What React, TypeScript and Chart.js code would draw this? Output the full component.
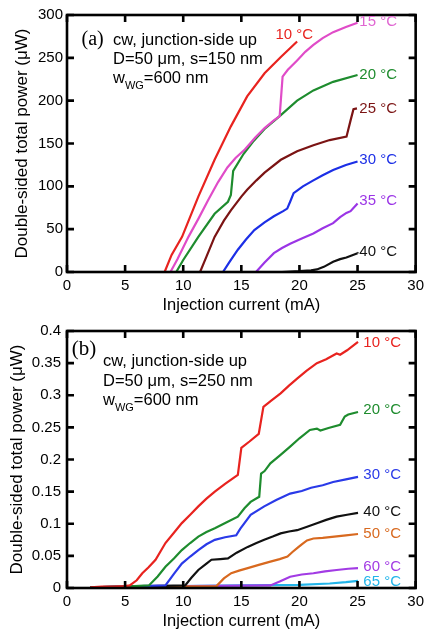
import React, { useEffect, useRef } from 'react';
import { Chart, registerables } from 'chart.js';

Chart.register(...registerables);

// ---------- tick labels ----------
const X_TICKS = ['0', '5', '10', '15', '20', '25', '30'];
const A_Y_TICKS = ['0', '50', '100', '150', '200', '250', '300'];
const B_Y_TICKS = ['0', '0.05', '0.1', '0.15', '0.2', '0.25', '0.3', '0.35', '0.4'];

// ---------- panel (a) : s = 150 nm, power in µW ----------
const A_NAMES = ['10 °C', '15 °C', '20 °C', '25 °C', '30 °C', '35 °C', '40 °C'];

const A10_X = [8.4, 9.0, 9.9, 11.3, 12.7, 14.1, 15.5, 17.0, 18.4, 19.8];
const A10_Y = [0, 20, 41, 88, 131, 170, 205, 232, 251, 269];

const A15_X = [8.9, 9.5, 10.45, 11.3, 12.15, 13.0, 13.8, 14.5, 15.3, 16.2, 17.0, 17.8, 18.3, 18.55, 19.0, 19.8, 20.5, 21.2, 22.0, 22.9, 24.0, 25.0];
const A15_Y = [0, 15, 41, 62, 84, 105, 122, 133, 143, 157, 168, 177, 182, 228, 236, 247, 257, 265, 273, 280, 286, 291];

const A20_X = [9.4, 10.0, 11.3, 12.7, 13.85, 14.1, 14.3, 15.2, 16.0, 17.0, 18.3, 19.8, 21.2, 22.9, 25.0];
const A20_Y = [0, 14, 41, 68, 82, 90, 118, 138, 152, 167, 182, 200, 212, 222, 230];

const A25_X = [11.0, 11.45, 12.0, 12.7, 13.5, 14.1, 15.0, 15.5, 16.3, 17.0, 18.4, 19.8, 21.2, 22.6, 24.05, 24.4, 24.65, 24.95];
const A25_Y = [0, 0, 18, 41, 60, 72, 88, 96, 107, 116, 131, 141, 148, 154, 158, 177, 190, 191];

const A30_X = [12.8, 13.42, 14.0, 14.7, 15.4, 16.12, 17.0, 17.8, 18.6, 18.95, 19.2, 19.5, 20.3, 21.2, 22.0, 22.9, 24.0, 25.0];
const A30_Y = [0, 0, 12, 26, 38, 49, 58, 65, 71, 74, 82, 92, 100, 107, 113, 119, 125, 129];

const A35_X = [15.5, 16.26, 17.0, 17.8, 18.5, 19.2, 20.2, 21.2, 22.0, 22.9, 23.5, 24.04, 24.4, 25.0];
const A35_Y = [0, 0, 11, 22, 28, 33, 39, 45, 51, 57, 64, 69, 71, 80];

const A40_X = [18.5, 20.0, 21.0, 21.5, 22.1, 22.9, 23.5, 24.04, 25.0];
const A40_Y = [0, 1, 2, 3, 6, 12, 15, 17, 22];

// ---------- panel (b) : s = 250 nm, power in µW ----------
const B_NAMES = ['10 °C', '20 °C', '30 °C', '40 °C', '50 °C', '60 °C', '65 °C'];

const B10_X = [2.0, 3.0, 4.0, 5.0, 5.4, 6.0, 6.48, 7.0, 7.62, 8.47, 9.2, 9.88, 10.6, 11.3, 12.0, 12.72, 13.6, 14.7, 15.0, 15.7, 16.5, 16.9, 17.6, 18.38, 19.1, 19.8, 20.6, 21.5, 22.3, 23.2, 23.5, 24.1, 25.04];
const B10_Y = [0.001, 0.002, 0.002, 0.003, 0.004, 0.012, 0.023, 0.032, 0.044, 0.070, 0.086, 0.101, 0.114, 0.127, 0.139, 0.150, 0.162, 0.176, 0.218, 0.228, 0.240, 0.282, 0.292, 0.303, 0.315, 0.326, 0.338, 0.350, 0.356, 0.365, 0.363, 0.370, 0.383];

const B20_X = [2.0, 5.0, 7.05, 7.8, 8.47, 9.2, 9.88, 10.6, 11.3, 12.0, 12.72, 13.7, 14.7, 15.27, 15.8, 16.54, 16.7, 17.0, 17.5, 18.3, 19.2, 20.0, 20.9, 21.5, 21.8, 22.5, 23.5, 23.9, 24.2, 25.04];
const B20_Y = [0.001, 0.002, 0.004, 0.018, 0.033, 0.046, 0.059, 0.070, 0.080, 0.087, 0.093, 0.102, 0.111, 0.124, 0.134, 0.142, 0.178, 0.182, 0.194, 0.206, 0.220, 0.233, 0.246, 0.248, 0.245, 0.249, 0.254, 0.267, 0.270, 0.274];

const B30_X = [2.0, 5.0, 8.47, 9.2, 9.88, 10.6, 11.3, 12.0, 12.72, 13.6, 14.56, 14.9, 15.27, 15.8, 16.97, 18.0, 19.2, 20.2, 21.0, 22.0, 22.9, 24.0, 25.04];
const B30_Y = [0.001, 0.002, 0.004, 0.022, 0.038, 0.049, 0.059, 0.068, 0.075, 0.079, 0.082, 0.092, 0.101, 0.114, 0.127, 0.137, 0.147, 0.151, 0.156, 0.160, 0.165, 0.169, 0.173];

const B40_X = [2.0, 5.0, 10.17, 10.7, 11.3, 12.0, 12.43, 13.2, 13.85, 14.6, 15.55, 16.3, 16.97, 17.7, 18.38, 19.1, 19.8, 20.6, 21.5, 22.3, 23.2, 24.1, 25.04];
const B40_Y = [0.001, 0.002, 0.004, 0.016, 0.028, 0.038, 0.044, 0.045, 0.046, 0.055, 0.064, 0.070, 0.075, 0.080, 0.085, 0.088, 0.090, 0.095, 0.1007, 0.106, 0.111, 0.114, 0.117];

const B50_X = [2.0, 5.0, 12.86, 13.5, 14.13, 14.8, 15.55, 16.5, 17.5, 18.3, 18.97, 19.4, 19.8, 20.2, 20.65, 21.2, 22.0, 23.0, 24.0, 25.04];
const B50_Y = [0.001, 0.002, 0.003, 0.015, 0.023, 0.027, 0.031, 0.036, 0.041, 0.045, 0.049, 0.056, 0.062, 0.068, 0.074, 0.077, 0.078, 0.080, 0.082, 0.084];

const B60_X = [2.0, 5.0, 10.0, 17.5, 18.3, 19.2, 20.2, 21.2, 22.2, 23.2, 24.2, 25.04];
const B60_Y = [0.001, 0.002, 0.003, 0.004, 0.010, 0.0176, 0.021, 0.023, 0.026, 0.028, 0.030, 0.031];

const B65_X = [2.0, 5.0, 10.0, 15.0, 20.0, 22.6, 24.0, 25.04];
const B65_Y = [0.001, 0.002, 0.003, 0.004, 0.005, 0.007, 0.009, 0.011];

// ---------- styling ----------
const SANS = "'Liberation Sans', Arial, Helvetica, sans-serif";
const SERIF = "'Liberation Serif', 'Times New Roman', serif";

const A_COLORS = ['#e8231f', '#e04cc8', '#1e8c2e', '#7b1414', '#1c2fe6', '#9b35e6', '#111111'];
const A_LABEL_COLORS = ['#e8231f', '#e066d2', '#1e8c2e', '#7b1414', '#1c2fe6', '#9b35e6', '#111111'];
const B_COLORS = ['#e8231f', '#1e8c2e', '#2a3ae8', '#111111', '#d8691f', '#a23be4', '#22b5ea'];

// label anchors (data coordinates) for the temperature tags
const A_LABEL_POS = [[17.93, 276.5], [25.15, 291.5], [25.15, 230], [25.15, 191], [25.15, 131], [25.15, 83], [25.15, 23]];
const B_LABEL_POS = [[25.5, 0.381], [25.5, 0.277], [25.5, 0.176], [25.5, 0.118], [25.5, 0.084], [25.5, 0.033], [25.5, 0.009]];

const zip = (xs: number[], ys: number[]) => xs.map((x, i) => ({ x, y: ys[i] }));

type Note = { kind: 'serif' | 'sans' | 'wwg'; text: string; dx: number; dy: number; size: number };

const framePlugin = {
  id: 'frame',
  afterDatasetsDraw(chart: any) {
    const { ctx, chartArea: a, scales } = chart;
    const x = scales.x;
    const y = scales.y;
    ctx.save();
    ctx.strokeStyle = '#000';
    ctx.lineWidth = 2.6;
    ctx.strokeRect(a.left, a.top, a.right - a.left, a.bottom - a.top);
    const L = 7;
    ctx.beginPath();
    x.ticks.forEach((t: any) => {
      const px = x.getPixelForValue(t.value);
      ctx.moveTo(px, a.bottom);
      ctx.lineTo(px, a.bottom - L);
      ctx.moveTo(px, a.top);
      ctx.lineTo(px, a.top + L);
    });
    y.ticks.forEach((t: any) => {
      const py = y.getPixelForValue(t.value);
      ctx.moveTo(a.left, py);
      ctx.lineTo(a.left + L, py);
      ctx.moveTo(a.right, py);
      ctx.lineTo(a.right - L, py);
    });
    ctx.stroke();
    ctx.restore();
  },
};

function makeLabelPlugin(names: string[], colors: string[], pos: number[][], notes: Note[], leaderIndex: number) {
  return {
    id: 'tags',
    afterDraw(chart: any) {
      const { ctx, chartArea: a, scales } = chart;
      const x = scales.x;
      const y = scales.y;
      ctx.save();
      ctx.textBaseline = 'middle';
      ctx.textAlign = 'left';
      ctx.font = `15px ${SANS}`;
      names.forEach((n, i) => {
        const px = x.getPixelForValue(pos[i][0]);
        const py = y.getPixelForValue(pos[i][1]);
        ctx.fillStyle = colors[i];
        ctx.fillText(n, px, py);
        if (i === leaderIndex) {
          const data = chart.data.datasets[i].data;
          const last = data[data.length - 1];
          ctx.strokeStyle = colors[i];
          ctx.lineWidth = 1.5;
          ctx.beginPath();
          ctx.moveTo(x.getPixelForValue(last.x), y.getPixelForValue(last.y));
          ctx.lineTo(px - 1, py);
          ctx.stroke();
        }
      });
      ctx.fillStyle = '#000';
      notes.forEach((n) => {
        const nx = a.left + n.dx;
        const ny = a.top + n.dy;
        if (n.kind === 'serif') {
          ctx.font = `${n.size}px ${SERIF}`;
          ctx.fillText(n.text, nx, ny);
        } else if (n.kind === 'sans') {
          ctx.font = `${n.size}px ${SANS}`;
          ctx.fillText(n.text, nx, ny);
        } else {
          ctx.font = `${n.size}px ${SANS}`;
          ctx.fillText('w', nx, ny);
          const w1 = ctx.measureText('w').width;
          ctx.font = `11px ${SANS}`;
          ctx.fillText('WG', nx + w1, ny + 8);
          const w2 = ctx.measureText('WG').width;
          ctx.font = `${n.size}px ${SANS}`;
          ctx.fillText(n.text, nx + w1 + w2, ny);
        }
      });
      ctx.restore();
    },
  };
}

function buildConfig(p: {
  series: { x: number[]; y: number[] }[];
  names: string[];
  colors: string[];
  labelColors: string[];
  labelPos: number[][];
  notes: Note[];
  yMax: number;
  yStep: number;
  yTicks: string[];
  yTickPad: number;
  yTitlePad: number;
  xHeight: number;
  xTitlePad: number;
  leaderIndex: number;
}): any {
  return {
    type: 'scatter',
    data: {
      datasets: p.series.map((s, i) => ({
        label: p.names[i],
        data: zip(s.x, s.y),
        showLine: true,
        borderColor: p.colors[i],
        backgroundColor: p.colors[i],
        borderWidth: 2.2,
        pointRadius: 0,
        tension: 0,
      })),
    },
    options: {
      animation: false,
      responsive: false,
      maintainAspectRatio: false,
      layout: { padding: { top: 15, right: 9, left: 0, bottom: 0 } },
      plugins: { legend: { display: false }, tooltip: { enabled: false } },
      scales: {
        x: {
          type: 'linear',
          min: 0,
          max: 30,
          ticks: {
            stepSize: 5,
            autoSkip: false,
            maxRotation: 0,
            padding: 5,
            color: '#000',
            font: { family: SANS, size: 15 },
            callback: (_v: any, i: number) => X_TICKS[i],
          },
          grid: { display: false, drawTicks: false },
          border: { display: false },
          title: {
            display: true,
            text: 'Injection current (mA)',
            color: '#000',
            font: { family: SANS, size: 16.5 },
            padding: { top: 0, bottom: p.xTitlePad },
          },
          afterFit: (s: any) => {
            s.height = p.xHeight;
          },
        },
        y: {
          type: 'linear',
          min: 0,
          max: p.yMax,
          ticks: {
            stepSize: p.yStep,
            autoSkip: false,
            padding: p.yTickPad,
            color: '#000',
            font: { family: SANS, size: 15 },
            callback: (_v: any, i: number) => p.yTicks[i],
          },
          grid: { display: false, drawTicks: false },
          border: { display: false },
          title: {
            display: true,
            text: 'Double-sided total power (μW)',
            color: '#000',
            font: { family: SANS, size: 17 },
            padding: { top: p.yTitlePad, bottom: 0 },
          },
          afterFit: (s: any) => {
            s.width = 67;
          },
        },
      },
    },
    plugins: [framePlugin, makeLabelPlugin(p.names, p.labelColors, p.labelPos, p.notes, p.leaderIndex)],
  };
}

function configA() {
  return buildConfig({
    series: [
      { x: A10_X, y: A10_Y },
      { x: A15_X, y: A15_Y },
      { x: A20_X, y: A20_Y },
      { x: A25_X, y: A25_Y },
      { x: A30_X, y: A30_Y },
      { x: A35_X, y: A35_Y },
      { x: A40_X, y: A40_Y },
    ],
    names: A_NAMES,
    colors: A_COLORS,
    labelColors: A_LABEL_COLORS,
    labelPos: A_LABEL_POS,
    notes: [
      { kind: 'serif', text: '(a)', dx: 14.5, dy: 24.5, size: 20 },
      { kind: 'sans', text: 'cw, junction-side up', dx: 46, dy: 25, size: 16.5 },
      { kind: 'sans', text: 'D=50 μm, s=150 nm', dx: 46, dy: 44, size: 16.5 },
      { kind: 'wwg', text: '=600 nm', dx: 46, dy: 63, size: 16.5 },
    ],
    yMax: 300,
    yStep: 50,
    yTicks: A_Y_TICKS,
    yTickPad: 4,
    yTitlePad: 11.8,
    xHeight: 44,
    xTitlePad: 1,
    leaderIndex: 6,
  });
}

function configB() {
  return buildConfig({
    series: [
      { x: B10_X, y: B10_Y },
      { x: B20_X, y: B20_Y },
      { x: B30_X, y: B30_Y },
      { x: B40_X, y: B40_Y },
      { x: B50_X, y: B50_Y },
      { x: B60_X, y: B60_Y },
      { x: B65_X, y: B65_Y },
    ],
    names: B_NAMES,
    colors: B_COLORS,
    labelColors: B_COLORS,
    labelPos: B_LABEL_POS,
    notes: [
      { kind: 'serif', text: '(b)', dx: 4.7, dy: 18, size: 21 },
      { kind: 'sans', text: 'cw, junction-side up', dx: 36, dy: 30.5, size: 16.5 },
      { kind: 'sans', text: 'D=50 μm, s=250 nm', dx: 36, dy: 50.5, size: 16.5 },
      { kind: 'wwg', text: '=600 nm', dx: 36, dy: 69, size: 16.5 },
    ],
    yMax: 0.4,
    yStep: 0.05,
    yTicks: B_Y_TICKS,
    yTickPad: 6,
    yTitlePad: 6.8,
    xHeight: 45,
    xTitlePad: 1.4,
    leaderIndex: -1,
  });
}

function Panel({ make, top, height }: { make: () => any; top: number; height: number }) {
  const ref = useRef<HTMLCanvasElement | null>(null);
  useEffect(() => {
    if (!ref.current) return;
    const chart = new Chart(ref.current, make());
    return () => chart.destroy();
  }, [make]);
  return (
    <canvas
      ref={ref}
      width={429}
      height={height}
      style={{ position: 'absolute', left: 0, top, width: 429, height, display: 'block' }}
    />
  );
}

export default function App() {
  return (
    <div style={{ position: 'absolute', left: 0, top: 0, width: 429, height: 633, background: '#fff' }}>
      <Panel make={configA} top={0} height={316} />
      <Panel make={configB} top={316} height={317} />
    </div>
  );
}
